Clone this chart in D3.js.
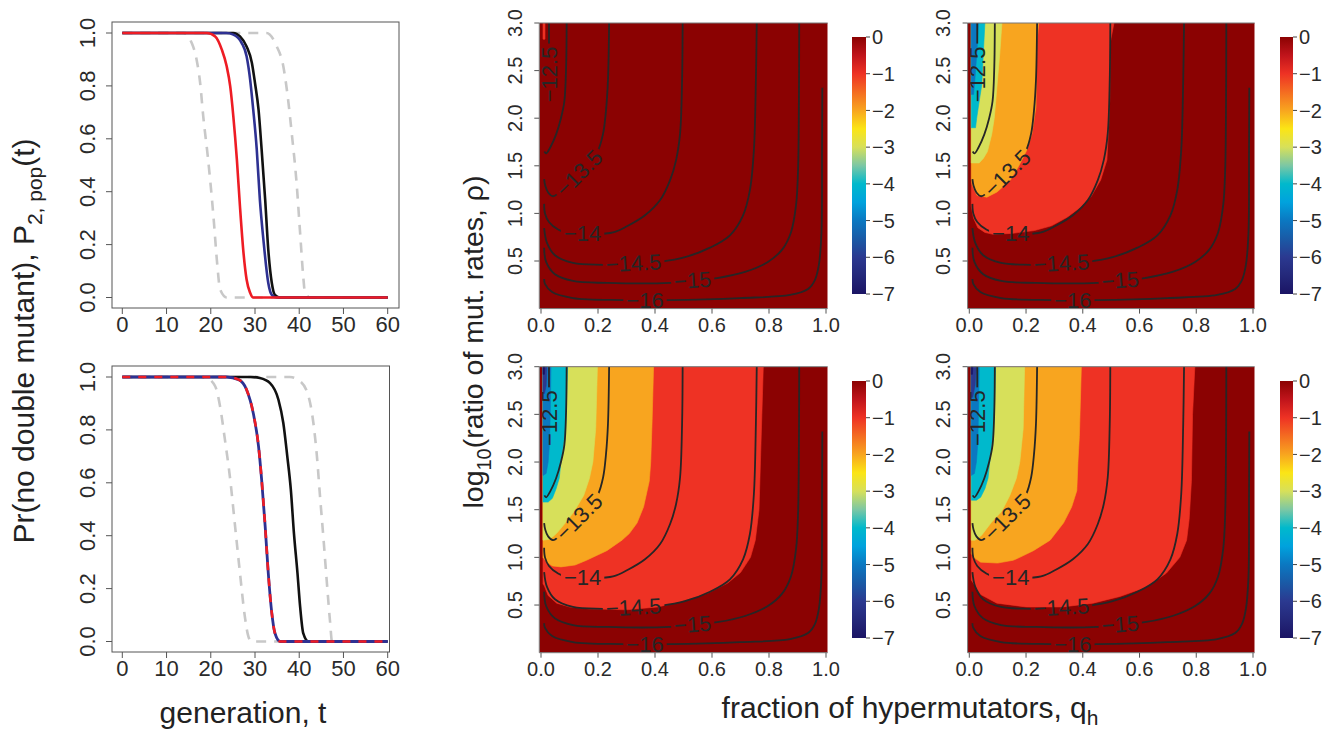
<!DOCTYPE html>
<html>
<head>
<meta charset="utf-8">
<script src="https://cdnjs.cloudflare.com/ajax/libs/d3/7.8.5/d3.min.js"></script>
<style>
  body { margin: 0; background: #fff; }
  svg { font-family: "Liberation Sans", Arial, Helvetica, sans-serif; }
</style>
</head>
<body>
<svg id="fig" width="1338" height="731"></svg>
<script>
// ---------- line charts: P(no double mutant) vs generation ----------
var genTicks = [0, 10, 20, 30, 40, 50, 60];
var probTicks = [0, 0.2, 0.4, 0.6, 0.8, 1.0];

var topGreyLeft  = [[0,1],[13.8,1],[15.7,0.962],[16.8,0.899],[17.6,0.811],[18.3,0.685],[19.4,0.522],[20.6,0.308],[21.5,0.119],[22.1,0.031],[23.6,0],[60,0]];
var topGreyRight = [[0,1],[32.6,1],[34.9,0.95],[36.4,0.874],[37.3,0.773],[38.3,0.622],[39.4,0.433],[40.2,0.244],[40.9,0.081],[41.3,0.018],[42.5,0],[60,0]];
var topBlack = [[0,1],[25.1,1],[26.6,0.987],[28.1,0.949],[29.3,0.887],[30.0,0.811],[30.8,0.71],[31.5,0.559],[32.3,0.37],[33.0,0.181],[33.8,0.055],[34.5,0.01],[35.7,0],[60,0]];
var topBlue  = [[0,1],[23.5,1],[25.1,0.994],[27.0,0.962],[28.1,0.912],[28.9,0.824],[29.6,0.71],[30.4,0.559],[31.1,0.37],[31.9,0.219],[33.0,0.055],[33.8,0.01],[34.9,0],[60,0]];
var topRed   = [[0,1],[19.1,1],[21.0,0.987],[22.5,0.937],[23.6,0.874],[24.4,0.798],[25.1,0.685],[25.9,0.522],[26.6,0.345],[27.4,0.169],[28.1,0.068],[28.9,0.018],[29.6,0],[60,0]];

var botGreyLeft  = [[0,1],[17.5,1],[19.1,0.996],[21.0,0.965],[22.1,0.889],[23.2,0.763],[24.4,0.612],[25.5,0.435],[26.6,0.259],[27.7,0.095],[28.5,0.019],[29.2,0],[60,0]];
var botGreyRight = [[0,1],[37.9,1],[40.2,0.984],[42.1,0.927],[43.2,0.826],[44.0,0.70],[44.7,0.549],[45.5,0.385],[46.2,0.233],[47.0,0.069],[47.4,0],[60,0]];
var botBlack  = [[0,1],[29.0,1],[31.1,0.996],[33.4,0.977],[35.3,0.914],[36.4,0.826],[37.3,0.70],[38.1,0.574],[38.8,0.41],[39.6,0.259],[40.2,0.132],[40.9,0.032],[42.1,0],[60,0]];
var botBlueRed = [[0,1],[23.6,1],[26.3,0.99],[28.1,0.952],[29.6,0.864],[30.8,0.738],[31.5,0.612],[32.3,0.435],[33.0,0.259],[33.8,0.107],[34.5,0.032],[35.7,0],[60,0]];

// ---------- heat maps: log10 ratio (colour) and contours ----------
var qTicks = [0, 0.2, 0.4, 0.6, 0.8, 1.0];
var rhoTicks = [0.5, 1.0, 1.5, 2.0, 2.5, 3.0];
var cbTicks = [0, -1, -2, -3, -4, -5, -6, -7];

var cbLevels = [0, -0.5, -1, -1.5, -2, -2.5, -3, -3.5, -4, -4.5, -5, -5.5, -6, -6.5, -7];
var cbColors = ["#8b0202", "#c0141b", "#ee3224", "#f46c21", "#f8a51f", "#fbe515", "#d7e05a", "#7cc7a4",
                "#00b9cc", "#00a2dd", "#0b78c1", "#1a5aa6", "#2b3990", "#24287a", "#1b1464"];

var Q0 = 0.007; // first non-zero q column

var regionsTM = [
  {level: -1, pts: [[0.014,3],[0.014,2.83],[Q0,2.83]]}
];
var regionsTR = [
  {level: -1, pts: [[0.51,3],[0.497,2.8],[0.495,2.2],[0.49,1.85],[0.485,1.56],[0.463,1.35],[0.43,1.18],[0.39,1.06],[0.345,0.96],[0.29,0.87],[0.23,0.82],[0.15,0.79],[0.084,0.78],[0.055,0.80],[0.03,0.85],[0.015,0.95],[Q0,1.07]]},
  {level: -2, pts: [[0.245,3],[0.238,2.8],[0.235,2.12],[0.221,1.84],[0.203,1.665],[0.173,1.49],[0.145,1.35],[0.098,1.225],[0.062,1.17],[0.027,1.19],[0.01,1.3],[Q0,1.36]]},
  {level: -3, pts: [[0.115,3],[0.108,2.7],[0.098,2.35],[0.088,2.0],[0.079,1.83],[0.064,1.65],[0.05,1.58],[0.035,1.53],[Q0,1.53]]},
  {level: -4, pts: [[0.055,3],[0.048,2.6],[0.044,2.35],[0.035,2.18],[0.026,2.0],[0.022,1.9],[Q0,1.9]]},
  {level: -5, pts: [[0.032,3],[0.027,2.7],[0.02,2.42],[0.015,2.25],[Q0,2.25]]}
];
var regionsBM = [
  {level: -1, pts: [[0.78,3],[0.775,2.5],[0.77,2.0],[0.765,1.5],[0.752,1.18],[0.735,1.0],[0.70,0.84],[0.655,0.73],[0.585,0.625],[0.49,0.535],[0.41,0.48],[0.30,0.45],[0.17,0.46],[0.10,0.48],[0.055,0.52],[0.025,0.6],[0.012,0.7],[Q0,0.72]]},
  {level: -2, pts: [[0.395,3],[0.39,2.44],[0.385,2.0],[0.38,1.8],[0.36,1.53],[0.337,1.36],[0.31,1.25],[0.284,1.18],[0.231,1.07],[0.16,0.97],[0.12,0.92],[0.07,0.9],[0.04,0.91],[0.02,0.95],[Q0,1.0]]},
  {level: -3, pts: [[0.198,3],[0.192,2.35],[0.182,2.0],[0.17,1.83],[0.15,1.65],[0.116,1.48],[0.088,1.37],[0.06,1.27],[0.047,1.23],[0.03,1.19],[Q0,1.18]]},
  {level: -4, pts: [[0.093,3],[0.088,2.5],[0.085,2.31],[0.078,2.17],[0.07,2.0],[0.064,1.83],[0.053,1.72],[0.04,1.62],[0.025,1.58],[Q0,1.58]]},
  {level: -5, pts: [[0.035,3],[0.033,2.6],[0.03,2.2],[0.025,2.0],[0.018,1.88],[Q0,1.86]]},
  {level: -6, pts: [[0.021,3],[0.018,2.8],[0.012,2.72],[Q0,2.72]]},
  {level: -7, pts: [[0.013,3],[0.012,2.92],[Q0,2.92]]}
];
var regionsBR = [
  {level: -1, pts: [[0.795,3],[0.787,2.5],[0.783,1.8],[0.775,1.4],[0.766,1.18],[0.742,1.0],[0.695,0.835],[0.625,0.69],[0.531,0.59],[0.436,0.52],[0.33,0.48],[0.2,0.48],[0.097,0.52],[0.04,0.61],[0.012,0.74],[Q0,0.76]]},
  {level: -2, pts: [[0.395,3],[0.388,2.27],[0.383,2.0],[0.379,1.7],[0.361,1.53],[0.332,1.36],[0.285,1.18],[0.226,1.07],[0.178,1.0],[0.155,0.97],[0.1,0.94],[0.04,0.95],[0.015,1.0],[Q0,1.04]]},
  {level: -3, pts: [[0.195,3],[0.19,2.35],[0.178,2.0],[0.166,1.83],[0.143,1.65],[0.114,1.48],[0.079,1.37],[0.043,1.23],[0.02,1.18],[Q0,1.18]]},
  {level: -4, pts: [[0.092,3],[0.088,2.5],[0.084,2.31],[0.072,2.0],[0.066,1.83],[0.055,1.72],[0.04,1.63],[0.025,1.6],[Q0,1.6]]},
  {level: -5, pts: [[0.035,3],[0.033,2.6],[0.03,2.2],[0.025,2.0],[0.018,1.88],[Q0,1.86]]},
  {level: -6, pts: [[0.025,3],[0.02,2.8],[0.012,2.68],[Q0,2.68]]},
  {level: -7, pts: [[0.012,3],[0.011,2.92],[Q0,2.92]]}
];

// contour lines (q, rho), same in every panel
var contour125 = [[0.028,3],[0.028,2.7],[0.027,2.4],[0.024,2.2]];
var contour13  = [[0.090,3],[0.088,2.53],[0.082,2.18],[0.070,2.0],[0.053,1.83],[0.032,1.69],[0.018,1.63],[0.012,1.65]];
var contour135 = [[0.239,3],[0.235,2.40],[0.228,2.08],[0.218,1.84],[0.200,1.66],[0.172,1.54],[0.130,1.42],[0.09,1.30],[0.06,1.21],[0.042,1.18],[0.025,1.22],[0.015,1.29],[0.011,1.36]];
var contour14  = [[0.497,3],[0.495,2.4],[0.488,1.84],[0.474,1.56],[0.453,1.35],[0.418,1.14],[0.365,0.98],[0.305,0.87],[0.253,0.80],[0.172,0.78],[0.102,0.78],[0.060,0.83],[0.028,0.91],[0.014,1.0],[0.011,1.10]];
var contour145 = [[0.757,3],[0.754,2.4],[0.747,1.665],[0.733,1.245],[0.709,0.98],[0.663,0.77],[0.593,0.64],[0.505,0.54],[0.418,0.49],[0.312,0.46],[0.218,0.46],[0.112,0.48],[0.049,0.56],[0.021,0.69],[0.011,0.845]];
var contour15  = [[0.906,3],[0.905,2.19],[0.902,1.46],[0.895,1.09],[0.877,0.80],[0.846,0.62],[0.796,0.49],[0.716,0.385],[0.618,0.32],[0.530,0.29],[0.453,0.27],[0.232,0.27],[0.112,0.29],[0.049,0.36],[0.018,0.49],[0.011,0.64]];
var contour16  = [[0.987,2.32],[0.986,1.665],[0.984,0.79],[0.975,0.46],[0.961,0.30],[0.937,0.206],[0.874,0.143],[0.698,0.111],[0.453,0.09],[0.284,0.09],[0.112,0.111],[0.039,0.174],[0.014,0.26],[0.011,0.31]];
var contours = [contour125, contour13, contour135, contour14, contour145, contour15, contour16];

var contourLabels = [
  {text: "\u221212.5", q: 0.029, r: 2.46, a: -90},
  {text: "\u221213.5", q: 0.133, r: 1.425, a: -45},
  {text: "\u221214",   q: 0.146, r: 0.79, a: 0},
  {text: "\u221214.5", q: 0.325, r: 0.48, a: -3},
  {text: "\u221215",   q: 0.532, r: 0.30, a: -4},
  {text: "\u221216",   q: 0.365, r: 0.09, a: 0}
];

// ---------------------------------------------------------------
var svg = d3.select("#fig");
var defs = svg.append("defs");
var color = d3.scaleLinear().domain(cbLevels).range(cbColors);
var minus = function(v) { return v < 0 ? "\u2212" + Math.abs(v) : String(v); };

var grad = defs.append("linearGradient").attr("id", "cbgrad")
  .attr("x1", 0).attr("y1", 0).attr("x2", 0).attr("y2", 1);
cbLevels.forEach(function(l, i) {
  grad.append("stop").attr("offset", (-l / 7)).attr("stop-color", cbColors[i]);
});

function lineChart(box, series) {
  var x = d3.scaleLinear().domain([0, 60]).range([122.3, 387.7]);
  var y = d3.scaleLinear().domain([0, 1]).range([box.y1 - 10.5, box.y0 + 11]);
  var g = svg.append("g");
  var line = d3.line().x(function(d) { return x(d[0]); }).y(function(d) { return y(d[1]); })
    .curve(d3.curveMonotoneX);
  series.forEach(function(s) {
    g.append("path").attr("d", line(s.data)).attr("fill", "none")
      .attr("stroke", s.color).attr("stroke-width", s.width)
      .attr("stroke-dasharray", s.dash || null).attr("stroke-linejoin", "round");
  });
  g.append("rect").attr("x", box.x0).attr("y", box.y0)
    .attr("width", box.x1 - box.x0).attr("height", box.y1 - box.y0)
    .attr("fill", "none").attr("stroke", "#555").attr("stroke-width", 1);
  genTicks.forEach(function(t) {
    g.append("line").attr("x1", x(t)).attr("x2", x(t)).attr("y1", box.y1).attr("y2", box.y1 + 6)
      .attr("stroke", "#555");
    g.append("text").attr("x", x(t)).attr("y", box.y1 + 24).attr("text-anchor", "middle")
      .attr("font-size", 22).attr("fill", "#2a2a2a").text(t);
  });
  probTicks.forEach(function(p) {
    g.append("line").attr("x1", box.x0 - 6).attr("x2", box.x0).attr("y1", y(p)).attr("y2", y(p))
      .attr("stroke", "#555");
    g.append("text").attr("transform", "translate(" + (box.x0 - 17) + "," + y(p) + ") rotate(-90)")
      .attr("text-anchor", "middle").attr("font-size", 22).attr("fill", "#2a2a2a").text(p.toFixed(1));
  });
}

lineChart({x0: 112, x1: 399, y0: 22, y1: 308}, [
  {data: topGreyLeft,  color: "#c8c8c8", width: 2.6, dash: "10,8"},
  {data: topGreyRight, color: "#c8c8c8", width: 2.6, dash: "10,8"},
  {data: topBlack, color: "#111", width: 2.6},
  {data: topBlue,  color: "#2e3192", width: 2.6},
  {data: topRed,   color: "#ee1c24", width: 2.6}
]);
lineChart({x0: 112, x1: 389.5, y0: 366, y1: 652}, [
  {data: botGreyLeft,  color: "#c8c8c8", width: 2.6, dash: "10,8"},
  {data: botGreyRight, color: "#c8c8c8", width: 2.6, dash: "10,8"},
  {data: botBlack,   color: "#111", width: 2.6},
  {data: botBlueRed, color: "#2e3192", width: 2.8},
  {data: botBlueRed, color: "#ee1c24", width: 2.6, dash: "8,8"}
]);

var panelCount = 0;
function heatPanel(xr, yr, regions, cb) {
  var id = "p" + (panelCount++);
  var x = d3.scaleLinear().domain([0, 1]).range(xr);
  var y = d3.scaleLinear().domain([0, 3]).range(yr);
  var bx0 = x(-0.006), bx1 = x(1.006), by0 = y(3), by1 = y(0);
  defs.append("clipPath").attr("id", "clip" + id).append("rect")
    .attr("x", bx0).attr("y", by0).attr("width", bx1 - bx0).attr("height", by1 - by0);
  var g = svg.append("g");
  var img = g.append("g").attr("clip-path", "url(#clip" + id + ")");
  img.append("rect").attr("x", bx0).attr("y", by0).attr("width", bx1 - bx0).attr("height", by1 - by0)
    .attr("fill", color(0));
  var poly = d3.line().x(function(d) { return x(d[0]); }).y(function(d) { return y(d[1]); });
  regions.forEach(function(r) {
    img.append("path").attr("d", poly(r.pts.concat([[Q0, 3]])) + "Z")
      .attr("fill", color(r.level)).attr("stroke", color(r.level)).attr("stroke-width", 0.6);
  });

  // contour lines with gaps behind labels (mask)
  var mask = defs.append("mask").attr("id", "mask" + id).attr("maskUnits", "userSpaceOnUse")
    .attr("x", 0).attr("y", 0).attr("width", 1338).attr("height", 731);
  mask.append("rect").attr("x", 0).attr("y", 0).attr("width", 1338).attr("height", 731).attr("fill", "#fff");
  var cl = d3.line().x(function(d) { return x(d[0]); }).y(function(d) { return y(d[1]); })
    .curve(d3.curveCatmullRom.alpha(0.5));
  var lines = img.append("g").attr("mask", "url(#mask" + id + ")");
  contours.forEach(function(c) {
    lines.append("path").attr("d", cl(c)).attr("fill", "none")
      .attr("stroke", "#262626").attr("stroke-width", 1.8);
  });
  contourLabels.forEach(function(l) {
    var tr = "translate(" + x(l.q) + "," + y(l.r) + ") rotate(" + l.a + ")";
    var t = img.append("text").attr("transform", tr).attr("text-anchor", "middle")
      .attr("dy", "0.36em").attr("font-size", 22).attr("fill", "#262626").text(l.text);
    var bb = t.node().getBBox();
    mask.append("rect").attr("transform", tr).attr("x", bb.x - 3).attr("y", bb.y)
      .attr("width", bb.width + 6).attr("height", bb.height).attr("fill", "#000");
  });

  // frame and axes
  g.append("path").attr("d", "M" + bx1 + "," + by0 + "H" + bx0 + "V" + by1 + "H" + bx1)
    .attr("fill", "none").attr("stroke", "#777").attr("stroke-width", 1);
  qTicks.forEach(function(q) {
    g.append("line").attr("x1", x(q)).attr("x2", x(q)).attr("y1", by1).attr("y2", by1 + 5).attr("stroke", "#555");
    g.append("text").attr("x", x(q)).attr("y", by1 + 23).attr("text-anchor", "middle")
      .attr("font-size", 20).attr("fill", "#2a2a2a").text(q.toFixed(1));
  });
  rhoTicks.forEach(function(r) {
    g.append("line").attr("x1", bx0 - 5).attr("x2", bx0).attr("y1", y(r)).attr("y2", y(r)).attr("stroke", "#555");
    g.append("text").attr("transform", "translate(" + (bx0 - 17.5) + "," + y(r) + ") rotate(-90)")
      .attr("text-anchor", "middle").attr("font-size", 20).attr("fill", "#2a2a2a").text(r.toFixed(1));
  });

  // colour bar
  var cy = d3.scaleLinear().domain([0, -7]).range([cb.y0, cb.y1]);
  g.append("rect").attr("x", cb.x0).attr("y", cb.y0).attr("width", cb.x1 - cb.x0).attr("height", cb.y1 - cb.y0)
    .attr("fill", "url(#cbgrad)");
  cbTicks.forEach(function(v) {
    g.append("line").attr("x1", cb.x1).attr("x2", cb.x1 + 4).attr("y1", cy(v)).attr("y2", cy(v)).attr("stroke", "#444");
    g.append("text").attr("x", cb.x1 + 6).attr("y", cy(v)).attr("dy", "0.36em")
      .attr("font-size", 20).attr("fill", "#2a2a2a").text(minus(v));
  });
}

heatPanel([541, 826], [308.6, 23], regionsTM, {x0: 852, x1: 866, y0: 37, y1: 294});
heatPanel([969.3, 1253], [308.6, 23], regionsTR, {x0: 1280, x1: 1293, y0: 37, y1: 294});
heatPanel([541, 826], [652.7, 366.7], regionsBM, {x0: 852, x1: 866, y0: 381, y1: 638});
heatPanel([969.3, 1253], [652.7, 366.7], regionsBR, {x0: 1280, x1: 1293, y0: 381, y1: 638});

// axis titles
var t1 = svg.append("text").attr("transform", "translate(34,341) rotate(-90)")
  .attr("text-anchor", "middle").attr("font-size", 30).attr("fill", "#222");
t1.append("tspan").text("Pr(no double mutant), P");
t1.append("tspan").attr("font-size", 21).attr("dy", 8).text("2, pop");
t1.append("tspan").attr("dy", -8).text("(t)");

svg.append("text").attr("x", 243).attr("y", 723).attr("text-anchor", "middle")
  .attr("font-size", 30).attr("fill", "#222").text("generation, t");

var t2 = svg.append("text").attr("transform", "translate(483,342) rotate(-90)")
  .attr("text-anchor", "middle").attr("font-size", 28.5).attr("fill", "#222");
t2.append("tspan").text("log");
t2.append("tspan").attr("font-size", 20).attr("dy", 8).text("10");
t2.append("tspan").attr("dy", -8).text("(ratio of mut. rates, \u03c1)");

var t3 = svg.append("text").attr("x", 910).attr("y", 718).attr("text-anchor", "middle")
  .attr("font-size", 30).attr("fill", "#222");
t3.append("tspan").text("fraction of hypermutators, q");
t3.append("tspan").attr("font-size", 21).attr("dy", 7).text("h");
</script>
</body>
</html>
